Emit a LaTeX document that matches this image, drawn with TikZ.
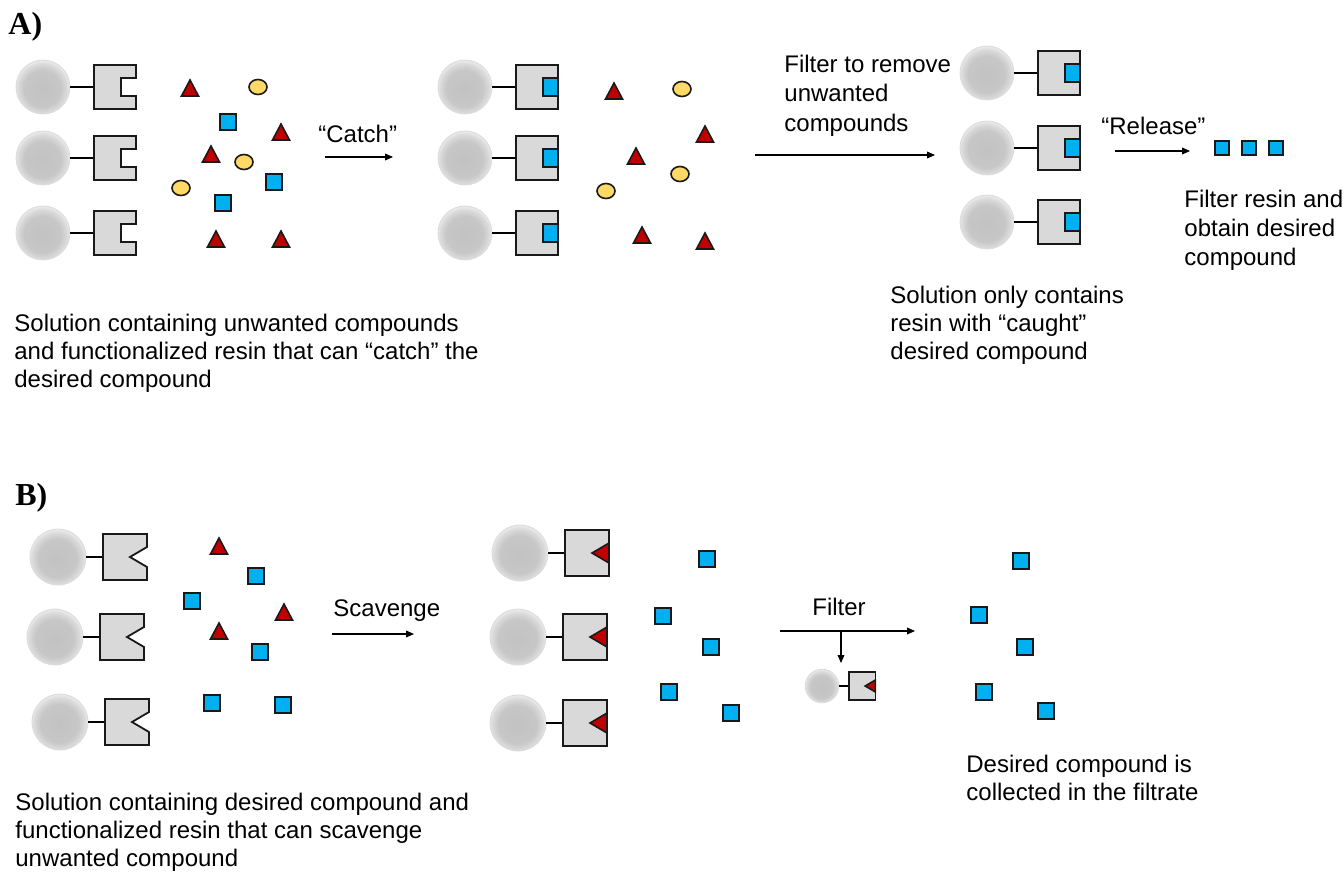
\documentclass[tikz,border=0pt]{standalone}
\usepackage{fontspec}
\setmainfont{Liberation Sans}
\newfontfamily\labelfont{Liberation Serif}
\usepackage{tikz}
\usetikzlibrary{arrows.meta}

\definecolor{molblue}{HTML}{00B0F0}
\definecolor{molred}{HTML}{C00000}
\definecolor{molyellow}{HTML}{FFD966}
\definecolor{boxgray}{HTML}{D9D9D9}

% grey resin bead, lighter towards the rim
\pgfdeclareradialshading{beadshade}{\pgfpoint{-1bp}{-2bp}}{color(0bp)=(black!24); color(17bp)=(black!22); color(23bp)=(black!14); color(25bp)=(black!9); color(50bp)=(black!9)}

\begin{document}
\begin{tikzpicture}[x=0.5pt,y=-0.5pt,
	bead/.style={shading=beadshade,draw=black!14,line width=0.4pt},
	link/.style={line width=0.75pt},
	socket/.style={draw=black!90,fill=boxgray,line width=0.9pt},
	blue mol/.style={draw=black!90,fill=molblue,line width=0.8pt},
	red mol/.style={draw=black!90,fill=molred,line width=0.8pt},
	yellow mol/.style={draw=black!90,fill=molyellow,line width=0.8pt},
	arr/.style={line width=0.55pt,-{Triangle[length=4pt,width=3.4pt]}},
	txt/.style={font=\fontsize{12}{13.9}\selectfont,inner sep=0pt,align=left,anchor=base west},
	panel/.style={font=\labelfont\bfseries\fontsize{16}{18}\selectfont,inner sep=0pt,anchor=base west},
	% resin with an empty square pocket
	pics/cup/.style={code={
		\shadedraw[bead] (0,0) circle (27);
		\draw[link] (27,0) -- (51,0);
		\draw[socket] (51,-22) -- (93,-22) -- (93,-9) -- (78,-9) -- (78,9) -- (93,9) -- (93,22) -- (51,22) -- cycle;
	}},
	% resin holding the caught compound
	pics/cupfull/.style={code={
		\shadedraw[bead] (0,0) circle (27);
		\draw[link] (27,0) -- (51,0);
		\draw[socket] (51,-22) rectangle (93,22);
		\draw[blue mol] (78,-9) rectangle (93,9);
	}},
	% resin with an empty wedge pocket
	pics/vee/.style={code={
		\shadedraw[bead] (0,0) circle (28);
		\draw[link] (28,0) -- (45,0);
		\draw[socket] (45,-23) -- (89,-23) -- (89,-10) -- (72,0) -- (89,10) -- (89,23) -- (45,23) -- cycle;
	}},
	% resin holding the scavenged compound
	pics/veefull/.style={code={
		\shadedraw[bead] (0,0) circle (28);
		\draw[link] (28,0) -- (45,0);
		\draw[socket] (45,-23) rectangle (89,23);
		\draw[red mol] (89,-10) -- (72,0) -- (89,10) -- cycle;
	}}]

	\useasboundingbox (0,0) rectangle (1344,874);

	%% A) catch and release
	\node[panel] (labA) at (8,34) {A)};

	\pic at (43,87) {cup};
	\pic at (43,158) {cup};
	\pic at (43,233) {cup};

	\foreach \p in {(228,122),(274,182),(223,203)}
		\draw[blue mol] \p +(-8,-8) rectangle +(8,8);
	\foreach \p in {(190,89),(281,133),(211,155),(216,240),(281,240)}
		\draw[red mol] \p +(0,-9) -- +(8.5,7) -- +(-8.5,7) -- cycle;
	\foreach \p in {(258,87),(244,162),(181,188)}
		\draw[yellow mol] \p ellipse (9 and 7.5);

	\coordinate (catchS) at (325,157);
	\coordinate (catchE) at (393,157);
	\draw[arr] (catchS) -- (catchE);
	\node[txt] (catch) at (318,142) {“Catch”};

	\pic at (465,87) {cupfull};
	\pic at (465,158) {cupfull};
	\pic at (465,233) {cupfull};

	\foreach \p in {(614,92),(705,135),(636,157),(642,236),(705,242)}
		\draw[red mol] \p +(0,-9) -- +(8.5,7) -- +(-8.5,7) -- cycle;
	\foreach \p in {(682,89),(680,174),(606,191)}
		\draw[yellow mol] \p ellipse (9 and 7.5);

	\coordinate (filtS) at (755,155);
	\coordinate (filtE) at (935,155);
	\draw[arr] (filtS) -- (filtE);
	% multi-line nodes sit on the baseline of their last line
	\node[txt,font=\fontsize{12}{14.6}\selectfont] (filt) at (784,131) {Filter to remove\\unwanted\\compounds};

	\pic at (987,73) {cupfull};
	\pic at (987,148) {cupfull};
	\pic at (987,222) {cupfull};

	\coordinate (relS) at (1115,151);
	\coordinate (relE) at (1190,151);
	\draw[arr] (relS) -- (relE);
	\node[txt] (rel) at (1101,134) {“Release”};

	\foreach \x in {1222,1249,1276}
		\draw[blue mol] (\x,148) +(-7,-7) rectangle +(7,7);

	\node[txt,font=\fontsize{12}{14.4}\selectfont] (obtain) at (1184,265) {Filter resin and\\obtain desired\\compound};
	\node[txt] (only) at (890,359) {Solution only contains\\resin with “caught”\\desired compound};
	\node[txt] (solA) at (14,387) {Solution containing unwanted compounds\\and functionalized resin that can “catch” the\\desired compound};

	%% B) scavenging
	\node[panel] (labB) at (15,505) {B)};

	\pic at (58,557) {vee};
	\pic at (55,637) {vee};
	\pic at (60,722) {vee};

	\foreach \p in {(256,576),(192,601),(260,652),(212,703),(283,705)}
		\draw[blue mol] \p +(-8,-8) rectangle +(8,8);
	\foreach \p in {(219,547),(284,613),(219,632)}
		\draw[red mol] \p +(0,-9) -- +(8.5,7) -- +(-8.5,7) -- cycle;

	\coordinate (scavS) at (332,634);
	\coordinate (scavE) at (414,634);
	\draw[arr] (scavS) -- (scavE);
	\node[txt] (scav) at (333,616) {Scavenge};

	\pic at (520,553) {veefull};
	\pic at (518,637) {veefull};
	\pic at (518,723) {veefull};

	\foreach \p in {(707,559),(663,616),(711,647),(669,692),(731,713)}
		\draw[blue mol] \p +(-8,-8) rectangle +(8,8);

	\coordinate (fbS) at (780,631);
	\coordinate (fbE) at (915,631);
	\coordinate (fbM) at (841,631);
	\coordinate (fbD) at (841,663);
	\draw[arr] (fbS) -- (fbE);
	\draw[arr] (fbM) -- (fbD);
	\node[txt] (fb) at (812,615) {Filter};

	\pic[scale=0.6] at (822,686) {veefull};

	\foreach \p in {(1021,561),(979,615),(1025,647),(984,692),(1046,711)}
		\draw[blue mol] \p +(-8,-8) rectangle +(8,8);

	\node[txt] (coll) at (966,800) {Desired compound is\\collected in the filtrate};
	\node[txt] (solB) at (15,866) {Solution containing desired compound and\\functionalized resin that can scavenge\\unwanted compound};

\end{tikzpicture}
\end{document}
